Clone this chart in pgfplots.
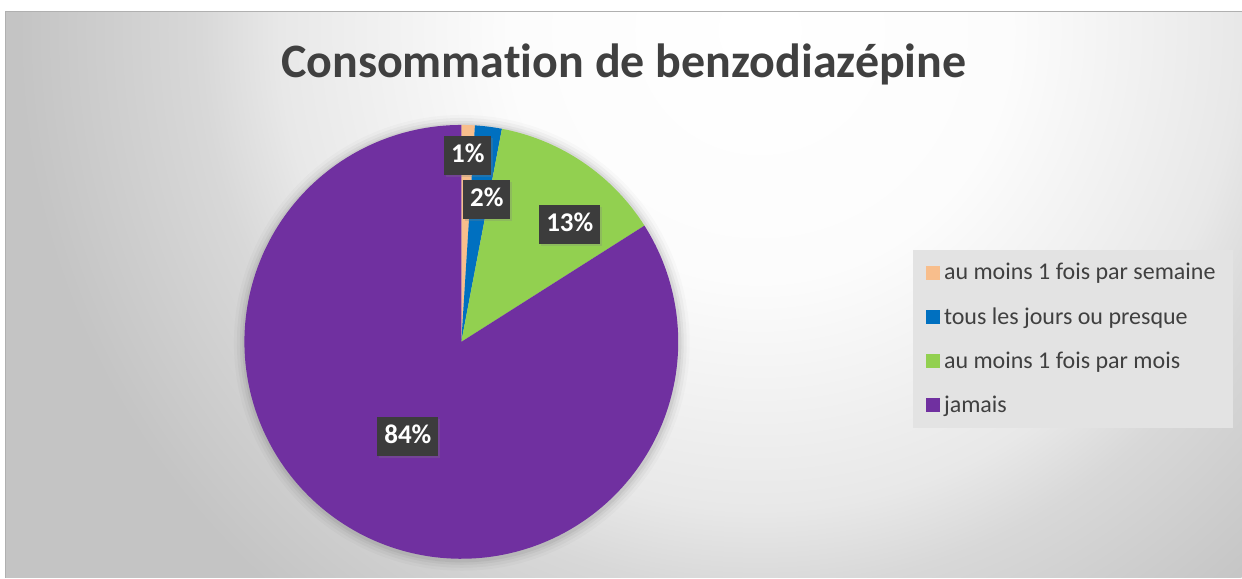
\documentclass[border=0pt]{standalone}
\usepackage{pgfplots}
\pgfplotsset{compat=1.18}
\usepackage{fontspec}
\setmainfont{Carlito}[Ligatures=NoCommon]
\usetikzlibrary{shadows}
\definecolor{cOrange}{HTML}{F8BE8C}
\definecolor{cBlue}{HTML}{0070C0}
\definecolor{cGreen}{HTML}{92D050}
\definecolor{cPurple}{HTML}{7030A0}
\definecolor{cText}{HTML}{404040}
\definecolor{cBox}{HTML}{3C3C3C}
\definecolor{cLegBg}{HTML}{E3E3E3}
\definecolor{g1}{HTML}{FCFCFC}
\definecolor{g2}{HTML}{E8E8E8}
\definecolor{g3}{HTML}{D8D8D8}
\definecolor{g4}{HTML}{C4C4C4}
% 25bp = circle radius (800pt = 1600px), so 1bp = 64px
\pgfdeclareradialshading{bgshade}{\pgfpoint{0bp}{0bp}}{color(0bp)=(white); color(3.9bp)=(g1); color(7.5bp)=(g2); color(8.75bp)=(g3); color(11.6bp)=(g4); color(50bp)=(g4)}
\begin{document}
\begin{tikzpicture}
\begin{axis}[
  width=621pt, height=289pt, scale only axis,
  xmin=0, xmax=1242, ymin=0, ymax=578,
  hide axis, clip=false,
  legend cell align=left,
  legend image code/.code={\fill[#1] (0pt,-3.5pt) rectangle (7pt,3.5pt);},
  legend style={at={(axis cs:913,328)}, anchor=north west, fill=cLegBg, draw=none,
    font=\fontsize{12}{13}\selectfont, text=cText,
    inner xsep=6.5pt, inner ysep=4.5pt, row sep=8.3pt,
    /tikz/every even column/.append style={column sep=0pt}},
]
% background
\fill[white] (axis cs:0,0) rectangle (axis cs:1242,578);
\begin{scope}
\clip (axis cs:6,0) rectangle (axis cs:1242,566);
\shade[shading=bgshade] (axis cs:760,548) circle[radius=800pt];
\end{scope}
\draw[color=g4!90!black, line width=0.5pt] (axis cs:6,0) -- (axis cs:6,566) -- (axis cs:1242,566);
% soft glow around the pie
\fill[black, opacity=0.02] (axis cs:462,235) circle[radius=114pt];
\fill[black, opacity=0.03] (axis cs:462,235) circle[radius=112.5pt];
\fill[black, opacity=0.04] (axis cs:462,235) circle[radius=111pt];
\fill[black, opacity=0.05] (axis cs:462,235) circle[radius=109.8pt];
% pie slices: 1%, 2%, 13%, 84%  (angles = cumulative % * 3.6, clockwise from top)
\addplot[draw=none, fill=cOrange, domain=0:3.6, samples=5]
  ({461.5+217*sin(x)},{236+217*cos(x)}) -- (axis cs:461.5,236) -- cycle;
\addlegendentry{au moins 1 fois par semaine}
\addplot[draw=none, fill=cBlue, domain=3.6:10.8, samples=8]
  ({461.5+217*sin(x)},{236+217*cos(x)}) -- (axis cs:461.5,236) -- cycle;
\addlegendentry{tous les jours ou presque}
\addplot[draw=none, fill=cGreen, domain=10.8:57.6, samples=40]
  ({461.5+217*sin(x)},{236+217*cos(x)}) -- (axis cs:461.5,236) -- cycle;
\addlegendentry{au moins 1 fois par mois}
\addplot[draw=none, fill=cPurple, domain=57.6:360, samples=200]
  ({461.5+217*sin(x)},{236+217*cos(x)}) -- (axis cs:461.5,236) -- cycle;
\addlegendentry{jamais}
% data labels
\addplot[forget plot, draw=none, mark=none, point meta=explicit symbolic,
  nodes near coords,
  nodes near coords style={anchor=center, fill=cBox, text=white,
    font=\fontsize{13.5}{14}\selectfont\bfseries, inner xsep=3.5pt,
    minimum height=19.5pt, text height=0.63em, text depth=0pt,
    drop shadow={opacity=0.25, shadow xshift=1pt, shadow yshift=-1pt}}]
  coordinates {(468,422) [1\%] (487,378) [2\%] (570,353) [13\%] (408,141) [84\%]};
% title
\node[anchor=base, text=cText, font=\fontsize{24}{28}\selectfont\bfseries]
  at (axis cs:624,500) {Consommation de benzodiazépine};
\end{axis}
\end{tikzpicture}
\end{document}
